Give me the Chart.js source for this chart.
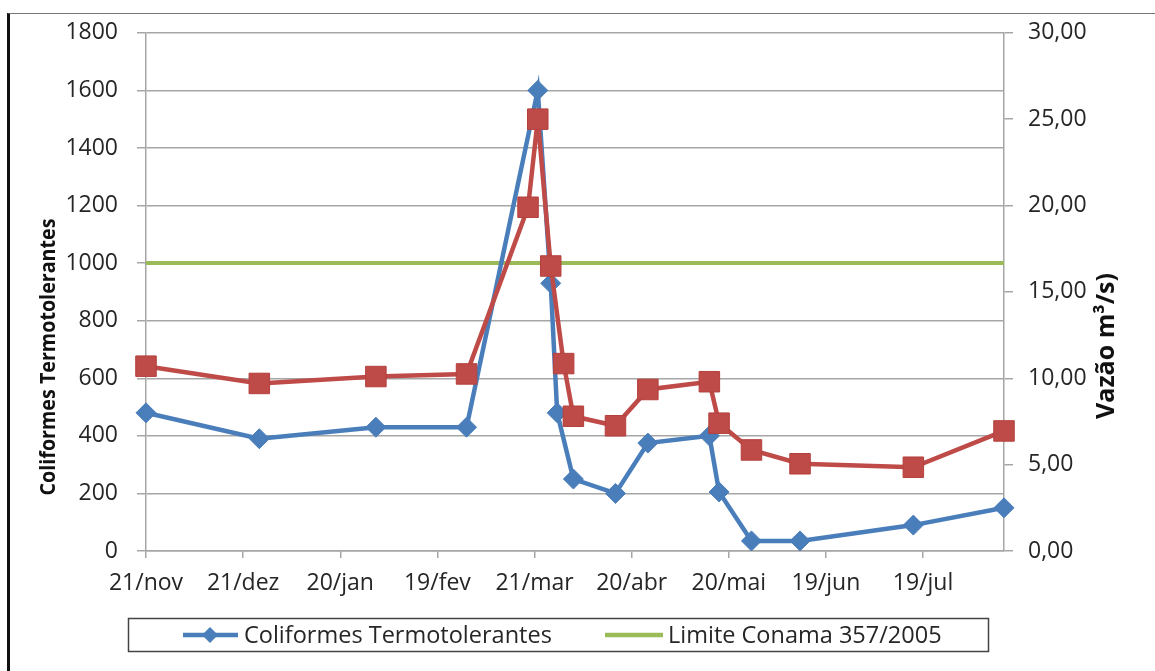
<!DOCTYPE html>
<html>
<head>
<meta charset="utf-8">
<script src="https://cdn.jsdelivr.net/npm/chart.js@4.4.1/dist/chart.umd.min.js"></script>
<style>
    html, body { margin: 0; padding: 0; background: #fff; }
    #frame {
        position: absolute; left: 7px; top: 13px; right: 0; bottom: 0;
        border-left: 3px solid #111; border-top: 1px solid #777;
    }
    #wrap { position: absolute; left: 0; top: 0; width: 1155px; height: 671px; }
</style>
</head>
<body>
<div id="frame"></div>
<div id="wrap"><canvas id="chart"></canvas></div>
<script>
// dates are counted in days from the first sample
const startDate = '2008-11-21';
const axisEndDate = '2009-08-13';

const coliformDates = ['2008-11-21', '2008-12-26', '2009-01-31', '2009-02-28', '2009-03-22', '2009-03-26',
    '2009-03-28', '2009-04-02', '2009-04-15', '2009-04-25', '2009-05-14', '2009-05-17', '2009-05-27',
    '2009-06-11', '2009-07-16', '2009-08-13'];
const coliformValues = [480, 390, 430, 430, 1600, 930, 480, 250, 200, 375, 400, 205, 35, 35, 90, 150];

const flowDates = ['2008-11-21', '2008-12-26', '2009-01-31', '2009-02-28', '2009-03-19', '2009-03-22',
    '2009-03-26', '2009-03-30', '2009-04-02', '2009-04-15', '2009-04-25', '2009-05-14', '2009-05-17',
    '2009-05-27', '2009-06-11', '2009-07-16', '2009-08-13'];
const flowValues = [10.7, 9.7, 10.1, 10.25, 19.9, 25.0, 16.5, 10.85, 7.8, 7.25, 9.35, 9.8, 7.4, 5.85, 5.05, 4.85, 6.95];

const limitValue = 1000;
const monthNames = ['jan', 'fev', 'mar', 'abr', 'mai', 'jun', 'jul', 'ago', 'set', 'out', 'nov', 'dez'];

const leftTitle = 'Coliformes Termotolerantes';
const rightTitle = 'Vazão m³/s)';
const legendLabels = ['Coliformes Termotolerantes', 'Limite Conama 357/2005'];

const DAY = 86400000;
const t0 = Date.parse(startDate);
const dayOf = d => (Date.parse(d) - t0) / DAY;
const endDay = dayOf(axisEndDate);

const colors = {
    blue: '#4A7EBB',
    red: '#BE4B48',
    green: '#9BBB59',
    grid: '#A6A6A6',
    text: '#262626',
};

const tickFont = { family: '"Open Sans"', size: 23 };

function drawDiamond(ctx, x, y, r, color) {
    ctx.beginPath();
    ctx.moveTo(x, y - r);
    ctx.lineTo(x + r, y);
    ctx.lineTo(x, y + r);
    ctx.lineTo(x - r, y);
    ctx.closePath();
    ctx.fillStyle = color;
    ctx.fill();
}

// rotated title, squeezed along its length to a given span
function verticalTitle(ctx, text, font, cx, cy, span) {
    ctx.save();
    ctx.font = font;
    const w = ctx.measureText(text).width;
    ctx.translate(cx, cy);
    ctx.rotate(-Math.PI / 2);
    ctx.scale(Math.min(1, span / w), 1);
    ctx.fillText(text, 0, 0);
    ctx.restore();
}

// axis titles and the boxed legend under the plot
const overlay = {
    id: 'overlay',
    afterDraw(chart) {
        const ctx = chart.ctx;
        ctx.save();
        ctx.fillStyle = '#111';
        ctx.textAlign = 'center';
        ctx.textBaseline = 'middle';

        verticalTitle(ctx, leftTitle, 'bold 21px "Open Sans"', 49, 357, 277);
        verticalTitle(ctx, rightTitle, 'bold 25px "Open Sans"', 1107, 346, 148);

        // legend box
        ctx.strokeStyle = '#444';
        ctx.lineWidth = 1.5;
        ctx.strokeRect(128.5, 618.5, 860, 33);

        const ly = 635;
        ctx.lineWidth = 4.5;
        ctx.strokeStyle = colors.blue;
        ctx.beginPath();
        ctx.moveTo(183, ly);
        ctx.lineTo(238, ly);
        ctx.stroke();
        drawDiamond(ctx, 210, ly, 8, colors.blue);

        ctx.strokeStyle = colors.green;
        ctx.beginPath();
        ctx.moveTo(605, ly);
        ctx.lineTo(663, ly);
        ctx.stroke();

        ctx.font = '23.5px "Open Sans"';
        ctx.fillStyle = colors.text;
        ctx.textAlign = 'left';
        ctx.fillText(legendLabels[0], 244, ly + 1);
        ctx.fillText(legendLabels[1], 668, ly + 1);
        ctx.restore();
    }
};

new Chart(document.getElementById('chart'), {
    type: 'line',
    data: {
        datasets: [{
            label: 'Vazão',
            data: flowDates.map((d, i) => ({ x: dayOf(d), y: flowValues[i] })),
            yAxisID: 'y1',
            borderColor: colors.red,
            backgroundColor: colors.red,
            borderWidth: 4.5,
            pointStyle: 'rect',
            pointRadius: 14.5,
            pointBorderWidth: 1,
            pointBorderColor: '#B5403D',
            clip: false,
            order: 0,
        }, {
            label: legendLabels[0],
            data: coliformDates.map((d, i) => ({ x: dayOf(d), y: coliformValues[i] })),
            yAxisID: 'y',
            borderColor: colors.blue,
            backgroundColor: colors.blue,
            borderWidth: 4.5,
            pointStyle: 'rectRot',
            pointRadius: 10,
            pointBorderWidth: 1,
            clip: false,
            order: 1,
        }, {
            label: legendLabels[1],
            data: [{ x: 0, y: limitValue }, { x: endDay, y: limitValue }],
            yAxisID: 'y',
            borderColor: colors.green,
            borderWidth: 4,
            pointRadius: 0,
            order: 2,
        }],
    },
    options: {
        responsive: true,
        maintainAspectRatio: false,
        animation: false,
        layout: { padding: { top: 29, left: 0, right: 0, bottom: 0 } },
        plugins: {
            legend: { display: false },
            tooltip: { enabled: false },
        },
        scales: {
            x: {
                type: 'linear',
                min: 0,
                max: endDay,
                afterFit: s => { s.height = 120; },
                ticks: {
                    stepSize: 30,
                    includeBounds: false,
                    autoSkip: false,
                    maxRotation: 0,
                    padding: 12,
                    color: colors.text,
                    font: tickFont,
                    callback: v => {
                        const d = new Date(t0 + v * DAY);
                        return d.getUTCDate() + '/' + monthNames[d.getUTCMonth()];
                    },
                },
                grid: { drawOnChartArea: false, tickLength: 7, color: colors.grid, lineWidth: 1.5 },
                border: { color: colors.grid, width: 1.5 },
            },
            y: {
                position: 'left',
                min: 0,
                max: 1800,
                afterFit: s => { s.width = 146; },
                ticks: {
                    stepSize: 200,
                    padding: 19,
                    color: colors.text,
                    font: tickFont,
                    callback: v => String(v),
                },
                grid: { color: colors.grid, lineWidth: 1.5, tickLength: 9 },
                border: { color: colors.grid, width: 1.5 },
            },
            y1: {
                position: 'right',
                min: 0,
                max: 30,
                afterFit: s => { s.width = 151; },
                ticks: {
                    stepSize: 5,
                    padding: 15,
                    color: colors.text,
                    font: tickFont,
                    callback: v => v.toFixed(2).replace('.', ','),
                },
                grid: { drawOnChartArea: false, color: colors.grid, lineWidth: 1.5, tickLength: 9 },
                border: { color: colors.grid, width: 1.5 },
            },
        },
    },
    plugins: [overlay],
});
</script>
</body>
</html>
